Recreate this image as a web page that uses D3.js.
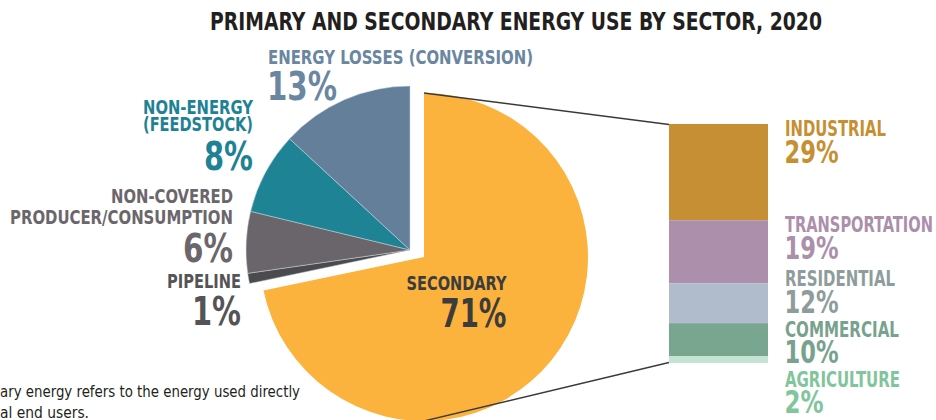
<!DOCTYPE html>
<html>
<head>
<meta charset="utf-8">
<script src="https://cdn.jsdelivr.net/npm/d3@7"></script>
<style>
  html, body { margin: 0; padding: 0; background: #fff; overflow: hidden; }
  svg { display: block; }
  text { font-family: "Liberation Sans Narrow", "Arial Narrow", "DejaVu Sans Condensed", "Liberation Sans", sans-serif; font-stretch: condensed; }
</style>
</head>
<body>
<svg id="chart" width="936" height="420"></svg>
<script>
// ---------- DATA ----------
const title = "PRIMARY AND SECONDARY ENERGY USE BY SECTOR, 2020";
const pieCategories = ["SECONDARY", "PIPELINE", "NON-COVERED PRODUCER/CONSUMPTION", "NON-ENERGY (FEEDSTOCK)", "ENERGY LOSSES (CONVERSION)"];
const pieValues = [71, 1, 6, 8, 13];
const sectorCategories = ["INDUSTRIAL", "TRANSPORTATION", "RESIDENTIAL", "COMMERCIAL", "AGRICULTURE"];
const sectorValues = [29, 19, 12, 10, 2];
const footnoteLines = ["ary energy refers to the energy used directly", "al end users."];

// ---------- STYLE / LAYOUT ----------
const pieColors = ["#fbb33d", "#4b4b4e", "#6a656a", "#1d8395", "#647f9a"];
const pieLabelColors = ["#3c3c3c", "#545456", "#6b666b", "#1e8294", "#6a86a1"];
const sectorColors = ["#c68f33", "#ab8fab", "#b0bccb", "#78a68e", "#c5e4d3"];
const sectorLabelColors = ["#c68f33", "#ab8fab", "#8e9c9b", "#78a28e", "#80c59b"];

const svg = d3.select("#chart");
const W = 936, H = 420;

const pieCenter = [410, 250];
const explode = [14, 7];
const radius = 164;

function fit(sel, w) {
  const len = sel.node().getComputedTextLength();
  if (Math.abs(len - w) > 0.5) sel.attr("textLength", w).attr("lengthAdjust", "spacingAndGlyphs");
  return sel;
}
function label(g, txt, x, y, size, color, anchor, w, weight) {
  const t = g.append("text")
    .attr("x", x).attr("y", y)
    .attr("font-size", size)
    .attr("font-weight", weight || "bold")
    .attr("fill", color)
    .attr("text-anchor", anchor)
    .text(txt);
  if (w) fit(t, w);
  return t;
}

// ---------- TITLE ----------
label(svg, title, 210, 30, 25, "#231f20", "start", 612);

// ---------- PIE ----------
const pie = d3.pie().sort(null).value(d => d).startAngle(0).endAngle(2 * Math.PI);
const arcs = pie(pieValues);
const arc = d3.arc().innerRadius(0).outerRadius(radius);

const pieG = svg.append("g").attr("transform", `translate(${pieCenter[0]},${pieCenter[1]})`);
pieG.selectAll("path.slice")
  .data(arcs)
  .join("path")
  .attr("class", "slice")
  .attr("transform", (d, i) => i === 0 ? `translate(${explode[0]},${explode[1]})` : null)
  .attr("d", arc)
  .attr("fill", (d, i) => pieColors[i])
  .attr("stroke", (d, i) => i === 0 ? "none" : "#cfd9de")
  .attr("stroke-width", 0.5);

// ---------- STACKED BAR ----------
const bar = { x: 669, w: 99, top: 124, bottom: 363 };
const total = d3.sum(sectorValues);
const y = d3.scaleLinear().domain([0, total]).range([bar.top, bar.bottom]);
let cum = 0;
const stacks = sectorValues.map(v => { const s = { y0: cum, y1: cum + v }; cum += v; return s; });

// connector lines from top/bottom of secondary slice to bar
const secCx = pieCenter[0] + explode[0], secCy = pieCenter[1] + explode[1];
const lineG = svg.append("g").attr("stroke", "#3a3a3a").attr("stroke-width", 1.4).attr("fill", "none");
lineG.append("line")
  .attr("x1", secCx).attr("y1", secCy - radius)
  .attr("x2", bar.x).attr("y2", y(0) + 0.5);
lineG.append("line")
  .attr("x1", secCx).attr("y1", secCy + radius)
  .attr("x2", bar.x).attr("y2", y(total) - 0.5);

svg.append("g").selectAll("rect")
  .data(stacks)
  .join("rect")
  .attr("x", bar.x)
  .attr("width", bar.w)
  .attr("y", d => y(d.y0))
  .attr("height", d => y(d.y1) - y(d.y0))
  .attr("fill", (d, i) => sectorColors[i]);

// ---------- PIE LABELS ----------
const lg = svg.append("g");
// Energy losses
label(lg, "ENERGY LOSSES (CONVERSION)", 268, 63.5, 20, pieLabelColors[4], "start", 265);
label(lg, pieValues[4] + "%", 267, 100, 39, pieLabelColors[4], "start", 70);
// Non-energy
label(lg, "NON-ENERGY", 253, 113.5, 20, pieLabelColors[3], "end", 110);
label(lg, "(FEEDSTOCK)", 253, 131, 20, pieLabelColors[3], "end", 110);
label(lg, pieValues[3] + "%", 253, 170, 39, pieLabelColors[3], "end", 49);
// Non-covered
label(lg, "NON-COVERED", 233, 203, 20, pieLabelColors[2], "end", 122);
label(lg, "PRODUCER/CONSUMPTION", 233, 224, 20, pieLabelColors[2], "end", 223);
label(lg, pieValues[2] + "%", 233, 261.5, 39, pieLabelColors[2], "end", 50);
// Pipeline
label(lg, "PIPELINE", 241, 288, 20, pieLabelColors[1], "end", 74);
label(lg, pieValues[1] + "%", 241, 325, 39, pieLabelColors[1], "end", 49);
// Secondary
label(lg, "SECONDARY", 406.5, 290, 20, pieLabelColors[0], "start", 100);
label(lg, pieValues[0] + "%", 506.5, 326.5, 39, pieLabelColors[0], "end", 66);

// ---------- SECTOR LABELS ----------
const sectorLabelLayout = [
  { ny: 136, py: 163, nw: 101, pw: 54 },
  { ny: 232, py: 259, nw: 148, pw: 54 },
  { ny: 286, py: 312.5, nw: 110, pw: 54 },
  { ny: 336.5, py: 362.5, nw: 114, pw: 54 },
  { ny: 386.5, py: 413, nw: 115, pw: 39 }
];
sectorCategories.forEach((c, i) => {
  const L = sectorLabelLayout[i];
  label(lg, c, 785, L.ny, 20.5, sectorLabelColors[i], "start", L.nw);
  label(lg, sectorValues[i] + "%", 784.5, L.py, 31.5, sectorLabelColors[i], "start", L.pw);
});

// ---------- FOOTNOTE ----------
label(lg, footnoteLines[0], 0, 396.5, 16.5, "#231f20", "start", 300, "normal");
label(lg, footnoteLines[1], 0, 418, 16.5, "#231f20", "start", 89, "normal");
</script>
</body>
</html>
